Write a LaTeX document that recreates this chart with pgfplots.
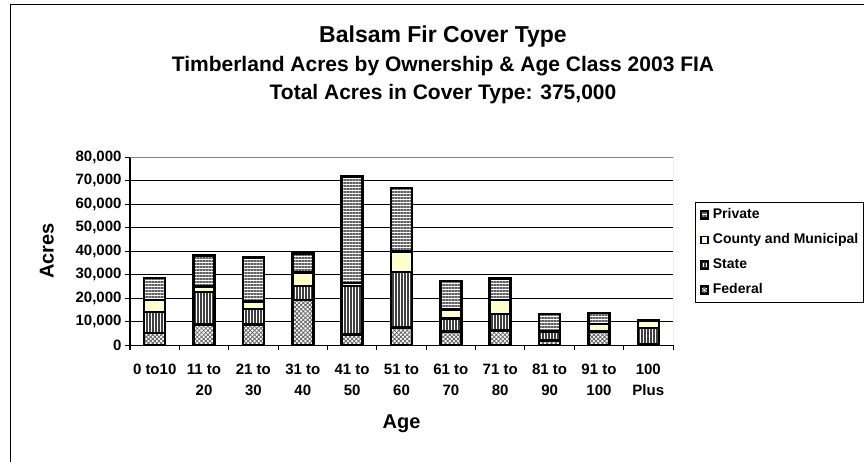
\documentclass[border=0pt]{standalone}
\usepackage{fontspec}
\setmainfont{Liberation Sans}
\usepackage{pgfplots}
\usepackage{pgfplotstable}
\pgfplotsset{compat=1.18}
\usetikzlibrary{patterns.meta}
\definecolor{county}{HTML}{FFFFCC}

\pgfplotstableread{
x F S C P
0 5100 9000 5100 9400
1 8800 13800 2300 13200
2 8800 6500 3200 18700
3 19200 5900 5700 8100
4 4500 20600 1200 45400
5 7500 23500 8800 27000
6 5700 5500 4000 12100
7 6100 7100 6000 9200
8 1900 3700 300 7200
9 5800 200 2900 4700
10 200 7100 2900 200
}\datatable

\newcommand{\tl}[1]{\begin{tabular}[t]{@{}c@{}}#1\end{tabular}}

\begin{document}
\begin{tikzpicture}[x=1pt,y=1pt]
\useasboundingbox (0pt,0pt) rectangle (864pt,-462pt);
\draw[line width=1pt] (10pt,-462pt) -- (10pt,-5pt) -- (864pt,-5pt);
\node[anchor=base, font=\bfseries\fontsize{23}{26}\selectfont] at (443pt,-43pt) {Balsam Fir Cover Type};
\node[anchor=base, font=\bfseries\fontsize{21}{24}\selectfont] at (443pt,-72pt) {Timberland Acres by Ownership \& Age Class 2003 FIA};
\node[anchor=base, font=\bfseries\fontsize{21}{24}\selectfont] at (443pt,-100pt) {Total Acres in Cover Type: 375,000};
\begin{axis}[
  at={(130pt,-345pt)}, anchor=south west,
  scale only axis, width=543pt, height=188pt,
  ybar stacked, bar width=21pt,
  xmin=-0.5, xmax=10.5, ymin=0, ymax=80000,
  axis x line*=bottom, axis y line*=left,
  axis line style={line width=1pt, black},
  tick align=outside,
  major tick length=5pt, minor tick length=5pt,
  xtick={0,...,10},
  major x tick style={draw=none},
  minor xtick={-0.5,0.5,...,10.5},
  minor x tick style={line width=1pt, black},
  ytick={0,10000,...,80000},
  major y tick style={line width=1pt, black},
  ymajorgrids,
  major grid style={line width=0.8pt, black},
  scaled y ticks=false,
  yticklabel style={/pgf/number format/.cd, fixed, 1000 sep={,}, assume math mode=true},
  tick label style={font=\bfseries\fontsize{15}{21}\selectfont},
  xticklabels={\tl{0 to10}, \tl{11 to\\20}, \tl{21 to\\30}, \tl{31 to\\40}, \tl{41 to\\50}, \tl{51 to\\60}, \tl{61 to\\70}, \tl{71 to\\80}, \tl{81 to\\90}, \tl{91 to\\100}, \tl{100\\Plus}},
  xticklabel style={anchor=base, yshift=-24.5pt, inner sep=0pt},
  xlabel={Age},
  xlabel style={at={(axis description cs:0.5,-0.42)}, anchor=center, font=\bfseries\fontsize{20}{24}\selectfont},
  ylabel={Acres},
  ylabel style={at={(axis description cs:-0.153,0.5)}, anchor=center, font=\bfseries\fontsize{20}{24}\selectfont},
  every axis plot/.append style={draw=black, line width=2.5pt},
  legend image code/.code={\draw[#1, line width=1.5pt] (0pt,-3.5pt) rectangle (7pt,3.5pt);},
  reverse legend,
  legend cell align=left,
  legend style={at={(1.0405,0.7606)}, anchor=north west, draw=black, line width=0.8pt,
    font=\bfseries\fontsize{14}{16}\selectfont, inner xsep=5pt, inner ysep=6pt,
    row sep=12pt, column sep=4pt,
    nodes={inner sep=0pt, text height=10pt, text depth=3pt}},
]
\addplot[preaction={fill=white}, pattern={Hatch[angle=45, distance=3pt, line width=0.8pt]}, pattern color=black!60] table[x=x, y=F] {\datatable};
\addlegendentry{Federal}
\addplot[preaction={fill=white}, pattern={Lines[angle=90, distance=3pt, line width=1.8pt]}, pattern color=black!75] table[x=x, y=S] {\datatable};
\addlegendentry{State}
\addplot[fill=county] table[x=x, y=C] {\datatable};
\addlegendentry{County and Municipal}
\addplot[preaction={fill=white}, pattern={Lines[angle=0, distance=3pt, line width=1.6pt]}, pattern color=black!62] table[x=x, y=P] {\datatable};
\addlegendentry{Private}
\draw[line width=1pt, black!50] (rel axis cs:0,1) -- (rel axis cs:1,1) -- (rel axis cs:1,0);
\end{axis}
\end{tikzpicture}
\end{document}
